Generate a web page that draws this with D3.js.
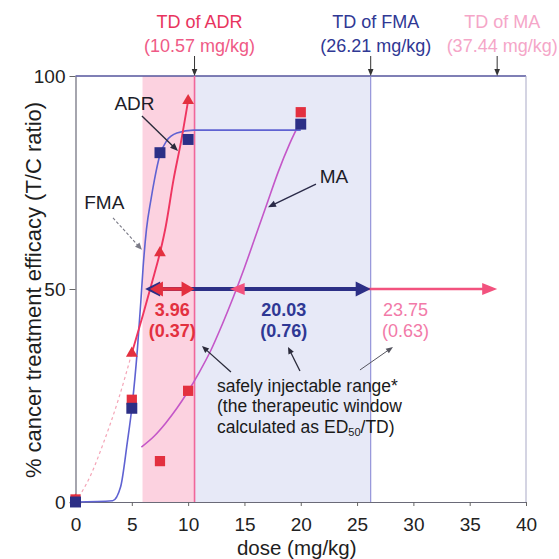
<!DOCTYPE html>
<html>
<head>
<meta charset="utf-8">
<script src="https://cdn.jsdelivr.net/npm/d3@7"></script>
<style>
  body { margin: 0; background: #fff; }
  svg { display: block; }
  text { font-family: "Liberation Sans", Arial, Helvetica, sans-serif; }
</style>
</head>
<body>
<svg id="chart" width="559" height="559"></svg>
<script>
// ---- data -------------------------------------------------------------
const xTicks = [0, 5, 10, 15, 20, 25, 30, 35, 40];
const yTicks = [0, 50, 100];

// measured responses (dose mg/kg, % T/C)
const fmaPoints = [[0, 0], [5, 22], [7.5, 82], [10, 85.1], [20, 88.7]];
const adrPoints = [[0, 0.4], [5, 34.9], [7.5, 58.5], [10, 94.2]];
const maPoints  = [[0, 0.6], [5, 24], [7.5, 9.6], [10, 26.1], [20, 91.5]];

// fitted dose-response curves
const fmaFit = [[0, 0], [3.3, 0.3], [4, 3.5], [4.6, 14], [5, 22], [5.5, 36], [5.8, 47],
                [6, 55], [6.3, 64], [6.7, 71], [7, 75.5], [7.5, 81.5], [8.1, 84.8],
                [9, 86.6], [10.5, 87.3], [20, 87.3]];
const adrFitLow = [[0, 0], [1.3, 6], [2.5, 14], [3.8, 24], [5, 34.9]];
const adrFit = [[5, 34.9], [6, 44], [7, 53.5], [7.5, 58.5], [8, 64.5], [8.7, 75.6],
                [9.4, 85], [10, 94.2]];
const maFit = [[5.85, 12.9], [7, 15.5], [8, 18.5], [9, 22], [10, 26], [11, 30.5],
               [12, 35.5], [13, 41.5], [14, 48], [15, 55], [16, 62.5], [17, 70],
               [18, 77.5], [19, 84], [20, 89.5]];

// toxic doses and therapeutic windows
const drugs = ["ADR", "FMA", "MA"];
const tdDose = [10.57, 26.21, 37.44];
const windowWidth = [3.96, 20.03, 23.75];
const windowRatio = [0.37, 0.76, 0.63];
const windowLabelDose = [8.59, 18.5, 29.3];

// ---- setup ------------------------------------------------------------
const svg = d3.select("#chart");
const x = d3.scaleLinear().domain([0, 40]).range([75.5, 526]);
const y = d3.scaleLinear().domain([0, 100]).range([502, 76]);

const C = {
  adr: "#e3303f", adrText: "#e8345e", adrCurve: "#ef3560", adrFaint: "#f4a4b6",
  fma: "#2c2f86", fmaText: "#2f3894", fmaCurve: "#5f62d2",
  ma: "#f2527e", maText: "#f27aa8", maTD: "#f5a6c8", maCurve: "#c457c8",
  pinkBand: "#fcd2e0", blueBand: "#e7e9f7"
};

function arrowHead(g, tx, ty, dx, dy, len, half, color) {
  const m = Math.hypot(dx, dy); dx /= m; dy /= m;
  const bx = tx - dx * len, by = ty - dy * len;
  const nx = -dy, ny = dx;
  g.append("path")
    .attr("d", `M${tx},${ty}L${bx + nx * half},${by + ny * half}L${bx - nx * half},${by - ny * half}Z`)
    .attr("fill", color);
}

function pointer(g, from, to, color, width, dash, len, half) {
  const x1 = x(from[0]), y1 = y(from[1]), x2 = x(to[0]), y2 = y(to[1]);
  const m = Math.hypot(x2 - x1, y2 - y1);
  g.append("line")
    .attr("x1", x1).attr("y1", y1)
    .attr("x2", x2 - (x2 - x1) / m * len * 0.6).attr("y2", y2 - (y2 - y1) / m * len * 0.6)
    .attr("stroke", color).attr("stroke-width", width)
    .attr("stroke-dasharray", dash || null);
  arrowHead(g, x2, y2, x2 - x1, y2 - y1, len, half, color);
}

// ---- shaded dose ranges -------------------------------------------------
const ed50 = tdDose.map((t, i) => +(t - windowWidth[i]).toFixed(2));
const bands = svg.append("g");
bands.append("rect")
  .attr("x", x(ed50[1])).attr("y", y(100))
  .attr("width", x(tdDose[1]) - x(ed50[1])).attr("height", y(0) - y(100))
  .attr("fill", C.blueBand);
bands.append("rect")
  .attr("x", x(5.95)).attr("y", y(100))
  .attr("width", x(tdDose[0]) - x(5.95)).attr("height", y(0) - y(100))
  .attr("fill", C.pinkBand);

// ---- frame and axes -----------------------------------------------------
const xAxis = svg.append("g")
  .attr("transform", `translate(0,${y(0)})`)
  .call(d3.axisBottom(x).tickValues(xTicks).tickSize(4).tickSizeOuter(0).tickPadding(12));
const yAxis = svg.append("g")
  .attr("transform", `translate(${x(0)},0)`)
  .call(d3.axisLeft(y).tickValues(yTicks).tickSize(6).tickSizeOuter(0).tickPadding(4));
[xAxis, yAxis].forEach(a => {
  a.selectAll("text").attr("font-size", 19).attr("fill", "#222")
    .style("font-family", '"Liberation Sans", Arial, sans-serif');
  a.selectAll("line").attr("stroke", "#666");
  a.select(".domain").attr("stroke", "#6a6a78").attr("stroke-width", 1.2);
});

svg.append("line")
  .attr("x1", x(0)).attr("x2", x(40)).attr("y1", y(100)).attr("y2", y(100))
  .attr("stroke", "#55559c").attr("stroke-width", 1.4);
svg.append("line")
  .attr("x1", x(40)).attr("x2", x(40)).attr("y1", y(100)).attr("y2", y(0))
  .attr("stroke", "#a9a9c6").attr("stroke-width", 1);

// toxic-dose verticals
svg.append("line")
  .attr("x1", x(tdDose[0])).attr("x2", x(tdDose[0])).attr("y1", y(100)).attr("y2", y(0))
  .attr("stroke", "#f0679a").attr("stroke-width", 1.6);
svg.append("line")
  .attr("x1", x(tdDose[1])).attr("x2", x(tdDose[1])).attr("y1", y(100)).attr("y2", y(0))
  .attr("stroke", "#8c8cd6").attr("stroke-width", 1.1);

// axis titles
svg.append("text")
  .attr("x", (x(0) + x(40)) / 2 - 4).attr("y", 555)
  .attr("text-anchor", "middle").attr("font-size", 20.5).attr("fill", "#1e1e1e")
  .text("dose (mg/kg)");
svg.append("text")
  .attr("transform", `translate(41,${(y(0) + y(100)) / 2 + 1}) rotate(-90)`)
  .attr("text-anchor", "middle").attr("font-size", 22).attr("fill", "#1e1e1e")
  .text("% cancer treatment efficacy (T/C ratio)");

// ---- curves -------------------------------------------------------------
const line = d3.line().x(d => x(d[0])).y(d => y(d[1])).curve(d3.curveMonotoneX);
const curves = svg.append("g").attr("fill", "none");
curves.append("path").attr("d", line(adrFitLow))
  .attr("stroke", C.adrFaint).attr("stroke-width", 1.2).attr("stroke-dasharray", "3,3");
curves.append("path").attr("d", line(maFit))
  .attr("stroke", C.maCurve).attr("stroke-width", 1.6);
curves.append("path").attr("d", line(fmaFit))
  .attr("stroke", C.fmaCurve).attr("stroke-width", 1.6);
curves.append("path").attr("d", line(adrFit))
  .attr("stroke", C.adrCurve).attr("stroke-width", 1.9);

// ---- therapeutic window arrows at 50% ----------------------------------
const arrows = svg.append("g");
const yMid = y(50);
// MA
arrows.append("line").attr("x1", x(ed50[2]) + 8).attr("x2", x(tdDose[2]) - 8)
  .attr("y1", yMid).attr("y2", yMid).attr("stroke", C.ma).attr("stroke-width", 2.4);
arrowHead(arrows, x(tdDose[2]), yMid, 1, 0, 15, 6, C.ma);
// FMA
arrows.append("line").attr("x1", x(ed50[1]) + 8).attr("x2", x(tdDose[1]) - 8)
  .attr("y1", yMid).attr("y2", yMid).attr("stroke", C.fma).attr("stroke-width", 4);
arrowHead(arrows, x(ed50[1]), yMid, -1, 0, 15, 7.5, C.fma);
arrowHead(arrows, x(tdDose[1]), yMid, 1, 0, 15, 7.5, C.fma);
arrowHead(arrows, x(ed50[2]), yMid, -1, 0, 15, 6, C.ma);
// ADR
arrows.append("line").attr("x1", x(ed50[0]) + 8).attr("x2", x(tdDose[0]) - 8)
  .attr("y1", yMid).attr("y2", yMid).attr("stroke", C.adr).attr("stroke-width", 3.6);
arrowHead(arrows, x(ed50[0]), yMid, -1, 0, 13, 7.5, C.adr);
arrowHead(arrows, x(tdDose[0]), yMid, 1, 0, 13, 7.5, C.adr);

// window labels
const wColors = [C.adr, C.fmaText, C.maText];
const wWeight = ["bold", "bold", "normal"];
drugs.forEach((d, i) => {
  const g = svg.append("g").attr("text-anchor", "middle").attr("font-size", 18)
    .attr("fill", wColors[i]).attr("font-weight", wWeight[i]);
  g.append("text").attr("x", x(windowLabelDose[i])).attr("y", y(43.7))
    .text(windowWidth[i].toFixed(2));
  g.append("text").attr("x", x(windowLabelDose[i])).attr("y", y(38.7))
    .text(`(${windowRatio[i].toFixed(2)})`);
});

// ---- measured points ---------------------------------------------------
const pts = svg.append("g");
const sq = d3.symbol().type(d3.symbolSquare);
const tri = d3.symbol().type(d3.symbolTriangle).size(60);
pts.selectAll(".adr").data(adrPoints).join("path")
  .attr("transform", d => `translate(${x(d[0])},${y(d[1])})`)
  .attr("d", tri).attr("fill", C.adr);
pts.selectAll(".ma").data(maPoints).join("path")
  .attr("transform", d => `translate(${x(d[0])},${y(d[1])})`)
  .attr("d", sq.size(105)).attr("fill", C.adr);
pts.selectAll(".fma").data(fmaPoints).join("path")
  .attr("transform", d => `translate(${x(d[0])},${y(d[1])})`)
  .attr("d", sq.size(120)).attr("fill", C.fma);

// ---- toxic-dose headers -------------------------------------------------
const tdColors = [[C.adrText, "#ef5a86"], [C.fmaText, C.fmaText], [C.maTD, C.maTD]];
drugs.forEach((d, i) => {
  const cx = x(tdDose[i]) + 5;
  const g = svg.append("g").attr("text-anchor", "middle").attr("font-size", 18);
  g.append("text").attr("x", cx).attr("y", 28).attr("fill", tdColors[i][0]).text(`TD of ${d}`);
  g.append("text").attr("x", cx).attr("y", 52).attr("fill", tdColors[i][1])
    .text(`(${tdDose[i].toFixed(2)} mg/kg)`);
  svg.append("line").attr("x1", x(tdDose[i])).attr("x2", x(tdDose[i]))
    .attr("y1", 56).attr("y2", y(100) - 5).attr("stroke", "#333").attr("stroke-width", 1);
  arrowHead(svg, x(tdDose[i]), y(100), 0, 1, 7, 2.8, "#333");
});

// ---- series labels and call-outs ---------------------------------------
const notes = svg.append("g").attr("font-size", 19).attr("fill", "#1c1c28").attr("text-anchor", "middle");
notes.append("text").attr("x", x(5.24)).attr("y", y(92.0)).text("ADR");
notes.append("text").attr("x", x(2.56)).attr("y", y(68.8)).text("FMA");
notes.append("text").attr("x", x(22.95)).attr("y", y(74.9)).text("MA");

const calls = svg.append("g");
pointer(calls, [5.9, 90.6], [9.1, 82.4], "#2a2a3a", 1.4, null, 8, 3.2);
pointer(calls, [3.33, 66.7], [5.9, 59.2], "#7a7a86", 1.1, "3,2", 7, 3);
pointer(calls, [21.35, 74.6], [17.09, 69.2], "#2a2a48", 1.4, null, 8, 3.2);
pointer(calls, [13.8, 30.5], [11.23, 36.6], "#2a2a3a", 1.3, null, 7, 3);
pointer(calls, [19.93, 30.75], [18.87, 36.4], "#2a2a3a", 1.3, null, 7, 3);
pointer(calls, [25.26, 31.0], [28.19, 36.4], "#55555f", 1, null, 7, 2.8);

const safe = svg.append("g").attr("font-size", 17.5).attr("fill", "#1a1a1a");
safe.append("text").attr("x", x(12.56)).attr("y", y(25.8)).text("safely injectable range*");
safe.append("text").attr("x", x(12.56)).attr("y", y(21.1)).text("(the therapeutic window");
const t3 = safe.append("text").attr("x", x(12.56)).attr("y", y(16.2));
t3.append("tspan").text("calculated as ED");
t3.append("tspan").attr("font-size", 11).attr("dy", 3).text("50");
t3.append("tspan").attr("dy", -3).text("/TD)");
</script>
</body>
</html>
